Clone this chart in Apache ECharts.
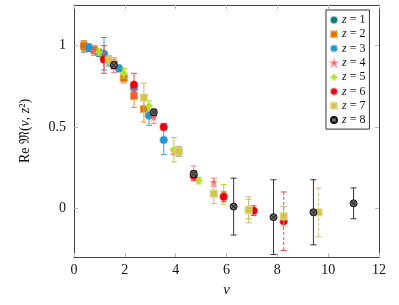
<!DOCTYPE html>
<html>
<head>
<meta charset="utf-8">
<script src="https://cdn.jsdelivr.net/npm/echarts@6/dist/echarts.min.js"></script>
<style>html,body{margin:0;padding:0;background:#fff}#c{width:399px;height:305px}</style>
</head>
<body>
<div id="c"></div>
<script>
// ---- data ----
const seriesNames = ['z=1','z=2','z=3','z=4','z=5','z=6','z=7','z=8'];
const xTicks = [0, 2, 4, 6, 8, 10, 12];
const yTicks = [0, 0.5, 1];

const nu1 = [0.39, 0.59, 0.79, 0.98, 1.18, 1.37];
const re1 = [0.995, 0.985, 0.97, 0.955, 0.93, 0.905];
const er1 = [0.035, 0.02, 0.02, 0.02, 0.03, 0.03];

const nu2 = [0.39, 0.79, 1.18, 1.57, 1.96, 2.36, 2.75];
const re2 = [1.0, 0.975, 0.935, 0.885, 0.80, 0.69, 0.61];
const er2 = [0.03, 0.02, 0.03, 0.03, 0.03, 0.07, 0.08];

const nu3 = [0.59, 1.18, 1.77, 2.36, 2.95, 3.53, 4.12];
const re3 = [0.99, 0.95, 0.86, 0.74, 0.57, 0.42, 0.35];
const er3 = [0.02, 0.10, 0.02, 0.03, 0.06, 0.09, 0.03];

const nu4 = [0.79, 1.57, 2.36, 3.14, 3.93, 4.71, 5.50];
const re4 = [0.97, 0.88, 0.72, 0.56, 0.35, 0.22, 0.16];
const er4 = [0.03, 0.045, 0.03, 0.04, 0.02, 0.04, 0.025];

const nu5 = [0.98, 1.96, 2.95, 3.93, 4.91, 5.89, 6.87];
const re5 = [0.96, 0.83, 0.63, 0.36, 0.17, 0.085, -0.005];
const er5 = [0.02, 0.03, 0.03, 0.075, 0.02, 0.06, 0.06];

const nu6 = [1.18, 2.36, 3.53, 4.71, 5.89, 7.07, 8.25];
const re6 = [0.915, 0.76, 0.50, 0.20, 0.07, -0.015, -0.08];
const er6 = [0.085, 0.07, 0.02, 0.03, 0.03, 0.03, 0.18];

const nu7 = [1.37, 2.75, 4.12, 5.50, 6.87, 8.25, 9.62];
const re7 = [0.91, 0.68, 0.35, 0.09, -0.01, -0.05, -0.025];
const er7 = [0.03, 0.09, 0.03, 0.06, 0.08, 0.06, 0.15];

const nu8 = [1.57, 3.14, 4.71, 6.28, 7.85, 9.42, 11.0];
const re8 = [0.88, 0.59, 0.21, 0.01, -0.055, -0.025, 0.03];
const er8 = [0.02, 0.02, 0.02, 0.175, 0.23, 0.20, 0.095];

const allNu = [nu1, nu2, nu3, nu4, nu5, nu6, nu7, nu8];
const allRe = [re1, re2, re3, re4, re5, re6, re7, re8];
const allEr = [er1, er2, er3, er4, er5, er6, er7, er8];

// ---- styles ----
const dashedLast = [false, false, false, false, false, true, true, false];
const fills  = ['#007b7b', '#e07000', '#1f98cc', '#ff5a6a', '#b4e41a', '#e60010', '#d2c448', '#6a6a6a'];
const halos  = ['rgba(0,123,123,0.45)', 'rgba(240,150,60,0.55)', 'rgba(60,160,210,0.5)', 'rgba(255,90,106,0.5)',
                'rgba(190,230,60,0.55)', 'rgba(240,40,40,0.45)', 'rgba(225,215,140,0.8)', '#111'];
const barCol = ['#2a9090', '#f5902a', '#3aa3d3', '#ff7a86', '#a8d820', '#ff4040', '#c8bb80', '#333'];
const starPath = 'path://M10,0 L12.4,7 L20,7 L13.8,11.4 L16.2,19 L10,14.4 L3.8,19 L6.2,11.4 L0,7 L7.6,7 Z';
const crossPath = 'path://M0,2 L2,0 L10,8 L18,0 L20,2 L12,10 L20,18 L18,20 L10,12 L2,20 L0,18 L8,10 Z';
const symbols = ['circle', 'rect', 'circle', starPath, 'diamond', 'circle', 'rect', 'circle'];
const sizes = [7, 7, 7.5, 6, 7, 7.5, 7, 7];

function errRender(color) {
  return function (params, api) {
    const x = api.value(0), y = api.value(1), e = api.value(2), d = api.value(3);
    const t = api.coord([x, y + e]), b = api.coord([x, y - e]);
    const w = 3;
    const style = { stroke: color, lineWidth: 1, lineDash: d ? [3, 2] : null, fill: null };
    return {
      type: 'group',
      children: [
        { type: 'line', shape: { x1: t[0], y1: t[1], x2: b[0], y2: b[1] }, style: style },
        { type: 'line', shape: { x1: t[0] - w, y1: t[1], x2: t[0] + w, y2: t[1] }, style: { stroke: color, lineWidth: 1 } },
        { type: 'line', shape: { x1: b[0] - w, y1: b[1], x2: b[0] + w, y2: b[1] }, style: { stroke: color, lineWidth: 1 } }
      ]
    };
  };
}

const series = [];
for (let i = 0; i < 8; i++) {
  const n = allNu[i].length;
  const errData = allNu[i].map((x, k) => [x, allRe[i][k], allEr[i][k], (dashedLast[i] && k === n - 1) ? 1 : 0]);
  series.push({
    type: 'custom', name: seriesNames[i] + '_err', renderItem: errRender(barCol[i]),
    data: errData, silent: true, z: 2 + i * 3, encode: { x: 0, y: 1 }
  });
  series.push({
    type: 'scatter', name: seriesNames[i], symbol: symbols[i], symbolSize: sizes[i],
    data: allNu[i].map((x, k) => [x, allRe[i][k]]),
    itemStyle: { color: fills[i], borderColor: halos[i], borderWidth: i === 7 ? 1 : 1.2, opacity: 1 },
    z: 3 + i * 3
  });
  if (i === 7) {
    series.push({
      type: 'scatter', name: 'z8x', symbol: crossPath, symbolSize: 5,
      data: allNu[i].map((x, k) => [x, allRe[i][k]]),
      itemStyle: { color: '#111' }, silent: true, z: 4 + i * 3
    });
  }
}

const serif = 'Liberation Serif';
const tickStyle = { show: true, inside: true, length: 4, lineStyle: { color: '#b8b8b8', width: 1 } };
const frameLine = { show: true, onZero: false, lineStyle: { color: '#444', width: 1 } };

const chart = echarts.init(document.getElementById('c'), null, { renderer: 'canvas' });
chart.setOption({
  animation: false,
  backgroundColor: '#fff',
  grid: { left: 74, right: 20, top: 5, bottom: 48 },
  legend: {
    data: seriesNames.map((nm, i) => ({ name: nm })),
    orient: 'vertical', left: 326, top: 10,
    backgroundColor: '#fff', borderColor: '#333', borderWidth: 1,
    padding: [4, 4, 3, 4], itemWidth: 6, itemHeight: 6, itemGap: 2.3,
    formatter: function (name) { return '{i|z} {t|= ' + name.split('=')[1] + '}'; },
    textStyle: {
      fontFamily: serif, fontSize: 12, color: '#111', lineHeight: 12,
      rich: { i: { fontStyle: 'italic', fontFamily: serif, fontSize: 12 }, t: { fontFamily: serif, fontSize: 12 } }
    }
  },
  xAxis: [{
    type: 'value', min: 0, max: 12, position: 'bottom',
    axisLine: frameLine, axisTick: Object.assign({ customValues: xTicks }, tickStyle),
    splitLine: { show: false },
    axisLabel: { customValues: xTicks, margin: 6, fontFamily: serif, fontSize: 14, color: '#111' },
    name: 'ν', nameLocation: 'middle', nameGap: 26,
    nameTextStyle: { fontFamily: serif, fontSize: 15, fontStyle: 'italic', color: '#111' }
  }, {
    type: 'value', min: 0, max: 12, position: 'top',
    axisLine: frameLine, axisTick: Object.assign({ customValues: xTicks }, tickStyle),
    splitLine: { show: false }, axisLabel: { show: false }
  }],
  yAxis: [{
    type: 'value', min: -0.3, max: 1.25, position: 'left',
    axisLine: frameLine, axisTick: Object.assign({ customValues: yTicks }, tickStyle),
    splitLine: { show: false },
    axisLabel: { customValues: yTicks, margin: 8, fontFamily: serif, fontSize: 14, color: '#111' },
    name: '{t|Re }{f|𝔐}{t|(}{i|ν}{t|, }{i|z}{t|²)}', nameLocation: 'middle', nameGap: 42, nameRotate: 90,
    nameTextStyle: {
      fontFamily: serif, fontSize: 14, color: '#111',
      rich: {
        t: { fontFamily: serif, fontSize: 14, color: '#111' },
        i: { fontFamily: serif, fontSize: 14, fontStyle: 'italic', color: '#111' },
        f: { fontSize: 14, color: '#111' }
      }
    }
  }, {
    type: 'value', min: -0.3, max: 1.25, position: 'right',
    axisLine: frameLine, axisTick: Object.assign({ customValues: yTicks }, tickStyle),
    splitLine: { show: false }, axisLabel: { show: false }
  }],
  series: series
});
</script>
</body>
</html>
